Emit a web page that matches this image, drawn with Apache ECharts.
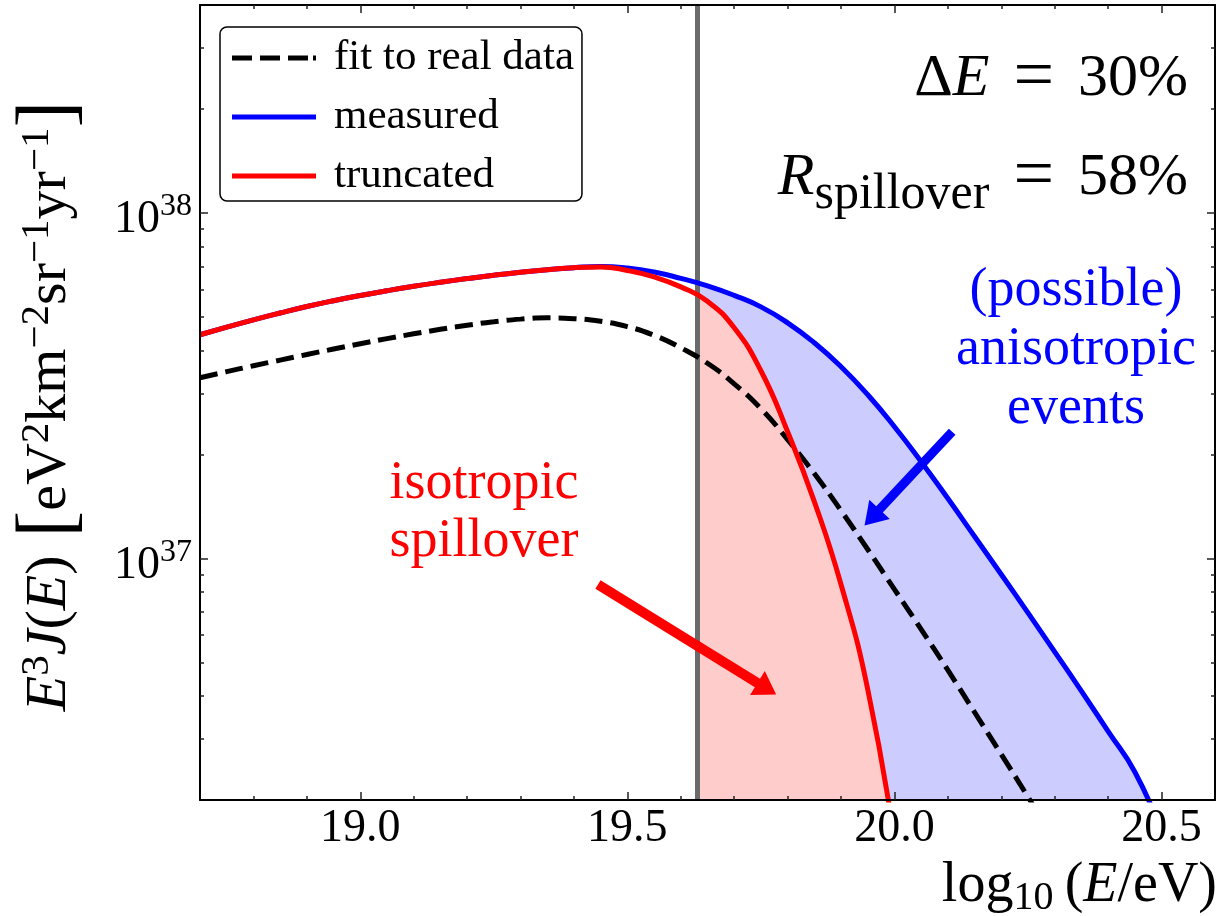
<!DOCTYPE html>
<html>
<head>
<meta charset="utf-8">
<script src="https://cdn.jsdelivr.net/npm/echarts@6/dist/echarts.min.js"></script>
<style>
  html, body { margin: 0; padding: 0; background: #fff; }
  #main { width: 1228px; height: 916px; }
</style>
</head>
<body>
<div id="main"></div>
<script>
var chart = echarts.init(document.getElementById('main'));

// log10(E/eV) sample points
var logE = [18.70, 18.75, 18.80, 18.85, 18.90, 18.95, 19.00, 19.05, 19.10, 19.15,
            19.20, 19.25, 19.30, 19.35, 19.40, 19.45, 19.50, 19.55, 19.60, 19.63,
            19.65, 19.70, 19.75, 19.80, 19.85, 19.90, 19.95, 20.00, 20.05, 20.10,
            20.15, 20.20, 20.25, 20.30, 20.35, 20.40, 20.45, 20.50, 20.55, 20.60];

// E^3 J(E) in units of 1e37 eV^2 km^-2 sr^-1 yr^-1
var fitData = [3.336, 3.474, 3.613, 3.752, 3.894, 4.040, 4.185, 4.329, 4.470, 4.606,
               4.733, 4.846, 4.930, 4.972, 4.946, 4.858, 4.690, 4.426, 4.072, 3.835,
               3.673, 3.204, 2.714, 2.208, 1.761, 1.376, 1.062, 0.814, 0.624, 0.475,
               0.359, 0.271, 0.204, 0.152, null, null, null, null, null, null];
var measured = [4.442, 4.674, 4.908, 5.136, 5.361, 5.572, 5.771, 5.958, 6.136, 6.302,
                6.459, 6.606, 6.739, 6.856, 6.948, 7.004, 6.934, 6.752, 6.468, 6.278,
                6.152, 5.775, 5.350, 4.810, 4.211, 3.589, 2.979, 2.407, 1.907, 1.491,
                1.158, 0.899, 0.696, 0.537, 0.413, 0.316, 0.241, 0.162, null, null];
var truncated = [4.442, 4.674, 4.908, 5.136, 5.361, 5.572, 5.771, 5.958, 6.136, 6.302,
                 6.459, 6.606, 6.739, 6.856, 6.948, 6.981, 6.820, 6.531, 6.112, 5.794,
                 5.550, 4.652, 3.495, 2.328, 1.461, 0.841, 0.418, 0.154, null, null,
                 null, null, null, null, null, null, null, null, null, null];

var cutLogE = 19.63;
var xTickLabels = [19.0, 19.5, 20.0, 20.5];
var yTickExp = [37, 38];
var legendNames = ['fit to real data', 'measured', 'truncated'];

var FONT = 'Liberation Serif';
var xMin = 18.7, xMax = 20.6;
var yMin = Math.log10(2e36), yMax = Math.log10(4e38);

function toLog(v) { return 37 + Math.log10(v); }
// from: only keep points at or after this x; skipCut: leave out the cut point (keeps strokes evenly spaced)
function pairs(vals, from, skipCut) {
  var out = [];
  for (var i = 0; i < logE.length; i++) {
    if (from != null && logE[i] < from - 1e-9) continue;
    if (skipCut && Math.abs(logE[i] - cutLogE) < 1e-9) continue;
    if (vals[i] == null) continue;
    out.push([logE[i], toLog(vals[i])]);
  }
  return out;
}

var xMinor = [];
for (var t = 188; t <= 205; t++) {
  if (t % 5 !== 0) xMinor.push(t / 10);
}
var yMinor = [];
[36, 37, 38].forEach(function (n) {
  for (var k = 2; k <= 9; k++) {
    var v = n + Math.log10(k);
    if (v > yMin + 1e-6 && v < yMax - 1e-6) yMinor.push(v);
  }
});

function xAxisDef(pos, ticks, len, showLine, showLabel) {
  return {
    type: 'value', position: pos, min: xMin, max: xMax, z: 20,
    axisLine: { show: showLine, onZero: false, lineStyle: { color: '#000', width: 2 } },
    axisTick: { show: true, inside: true, length: len, customValues: ticks,
                lineStyle: { color: '#222', width: 1.5 } },
    axisLabel: { show: showLabel, customValues: xTickLabels, margin: 6,
                 formatter: function (v) { return v.toFixed(1); },
                 fontSize: 46, color: '#000', fontFamily: FONT },
    splitLine: { show: false }
  };
}
function yAxisDef(pos, ticks, len, showLine, showLabel) {
  return {
    type: 'value', position: pos, min: yMin, max: yMax, z: 20,
    axisLine: { show: showLine, onZero: false, lineStyle: { color: '#000', width: 2 } },
    axisTick: { show: true, inside: true, length: len, customValues: ticks,
                lineStyle: { color: '#222', width: 1.5 } },
    axisLabel: {
      show: showLabel, customValues: yTickExp, margin: 8,
      formatter: function (v) { return '{b|10}{s|' + Math.round(v) + '}'; },
      rich: {
        b: { fontSize: 46, fontFamily: FONT, color: '#000', verticalAlign: 'middle', padding: [14, 0, 0, 0] },
        s: { fontSize: 32, fontFamily: FONT, color: '#000', verticalAlign: 'middle', padding: [0, 0, 12, 0] }
      }
    },
    splitLine: { show: false }
  };
}

function richMath(size, color, opts) {
  opts = opts || {};
  var ss = opts.small || Math.round(size * 0.7);
  var up = opts.up || Math.round(size * 0.45);
  var down = opts.down || Math.round(size * 0.45);
  function st(extra) {
    var o = { fontFamily: FONT, fill: color, verticalAlign: 'middle' };
    for (var k in extra) o[k] = extra[k];
    return o;
  }
  return {
    i: st({ fontSize: size, fontStyle: 'italic' }),
    n: st({ fontSize: size }),
    eq: st({ fontSize: Math.round(size * 1.2) }),
    g: st({ fontSize: size, width: opts.gap || 12 }),
    sup: st({ fontSize: ss, padding: [0, 0, up, 0] }),
    sub: st({ fontSize: ss, padding: [down, 0, 0, 0] }),
    br: st({ fontSize: opts.br || Math.round(size * 1.3) })
  };
}

function curve(name, data, z, extra) {
  var s = { name: name, type: 'line', z: z, data: data, smooth: 0.5, symbol: 'none' };
  for (var k in extra) s[k] = extra[k];
  return s;
}

var option = {
  animation: false,
  backgroundColor: '#fff',
  textStyle: { fontFamily: FONT },
  grid: { left: 200, top: 5, right: 13, bottom: 116, containLabel: false },
  legend: {
    data: [
      { name: legendNames[0], icon: 'path://M0,0H20V5H0Z M28,0H48V5H28Z M56,0H76V5H56Z M81,0H84V5H81Z' },
      { name: legendNames[1], icon: 'rect' },
      { name: legendNames[2], icon: 'rect' }
    ],
    orient: 'vertical',
    left: 220, top: 27,
    padding: [6, 8, 0, 12],
    itemWidth: 84, itemHeight: 5, itemGap: 9,
    borderColor: '#000', borderWidth: 1.5, borderRadius: 7,
    backgroundColor: '#fff',
    textStyle: { fontSize: 43, fontFamily: FONT, color: '#000', lineHeight: 50, padding: [0, 0, 0, 13] },
    selectedMode: false
  },
  xAxis: [
    xAxisDef('bottom', xTickLabels, 8, true, true),
    xAxisDef('bottom', xMinor, 4, false, false),
    xAxisDef('top', xTickLabels, 8, true, false),
    xAxisDef('top', xMinor, 4, false, false)
  ],
  yAxis: [
    yAxisDef('left', yTickExp, 8, true, true),
    yAxisDef('left', yMinor, 4, false, false),
    yAxisDef('right', yTickExp, 8, true, false),
    yAxisDef('right', yMinor, 4, false, false)
  ],
  series: [
    curve('anisotropic fill', pairs(measured, cutLogE), 1, {
      silent: true,
      lineStyle: { width: 0, opacity: 0 },
      areaStyle: { color: '#ccccff', opacity: 1, origin: 'start' }
    }),
    curve('spillover fill', pairs(truncated, cutLogE), 2, {
      silent: true,
      lineStyle: { width: 0, opacity: 0 },
      areaStyle: { color: '#ffcccc', opacity: 1, origin: 'start' },
      markLine: {
        silent: true, symbol: 'none', z: 3, animation: false,
        label: { show: false },
        lineStyle: { color: '#6b6b6b', width: 5, type: 'solid' },
        data: [{ xAxis: cutLogE }]
      }
    }),
    curve('fit to real data', pairs(fitData, null, true), 5, {
      lineStyle: { color: '#000', width: 5, type: [18, 8] },
      itemStyle: { color: '#000' }
    }),
    curve('measured', pairs(measured, null, true), 6, {
      lineStyle: { color: '#0000ff', width: 5 },
      itemStyle: { color: '#0000ff' },
      markLine: {
        silent: true, z: 12, animation: false,
        symbol: ['none', 'triangle'], symbolSize: [28, 22],
        label: { show: false },
        lineStyle: { color: '#0000ff', width: 9, type: 'solid' },
        data: [[{ coord: [20.108, 37.367] }, { coord: [19.958, 37.119] }]]
      }
    }),
    curve('truncated', pairs(truncated, null, true), 7, {
      lineStyle: { color: '#ff0000', width: 5 },
      itemStyle: { color: '#ff0000' },
      markLine: {
        silent: true, z: 12, animation: false,
        symbol: ['none', 'triangle'], symbolSize: [28, 22],
        label: { show: false },
        lineStyle: { color: '#ff0000', width: 10, type: 'solid' },
        data: [[{ coord: [19.445, 36.925] }, { coord: [19.761, 36.623] }]]
      }
    })
  ],
  graphic: [
    {
      type: 'text', x: 1188, y: 79, z: 30,
      style: {
        text: '{n|Δ}{i|E}{g| }{eq|=}{g| }{n|30%}',
        rich: richMath(60, '#000', { gap: 24 }),
        align: 'right', verticalAlign: 'middle'
      }
    },
    {
      type: 'text', x: 1188, y: 178, z: 30,
      style: {
        text: '{i|R}{sub|spillover}{g| }{eq|=}{g| }{n|58%}',
        rich: richMath(60, '#000', { gap: 24, small: 50, down: 34 }),
        align: 'right', verticalAlign: 'middle'
      }
    },
    {
      type: 'text', x: 1076, y: 350, z: 30,
      style: {
        text: '(possible)\nanisotropic\nevents',
        fontSize: 54, fontFamily: FONT, fill: '#0000ff', lineHeight: 59,
        align: 'center', verticalAlign: 'middle'
      }
    },
    {
      type: 'text', x: 484, y: 513, z: 30,
      style: {
        text: 'isotropic\nspillover',
        fontSize: 54, fontFamily: FONT, fill: '#ff0000', lineHeight: 58,
        align: 'center', verticalAlign: 'middle'
      }
    },
    {
      type: 'text', x: 1217, y: 886, z: 30,
      style: {
        text: '{n|log}{sub|10}{n|\u2009(}{i|E}{n|/eV)}',
        rich: richMath(56, '#000', { small: 40, down: 24 }),
        align: 'right', verticalAlign: 'middle'
      }
    },
    {
      type: 'text', x: 50, y: 406, rotation: Math.PI / 2, z: 30,
      style: {
        text: '{i|E}{sup|3}{i|J}{n|(}{i|E}{n|)}{g| }{br|[}{n|eV}{sup|2}{n|km}{sup|\u22122}{n|sr}{sup|\u22121}{n|yr}{sup|\u22121}{br|]}',
        rich: richMath(58, '#000', { small: 41, up: 26, gap: 18, br: 80 }),
        align: 'center', verticalAlign: 'middle'
      }
    }
  ]
};

chart.setOption(option);
</script>
</body>
</html>
